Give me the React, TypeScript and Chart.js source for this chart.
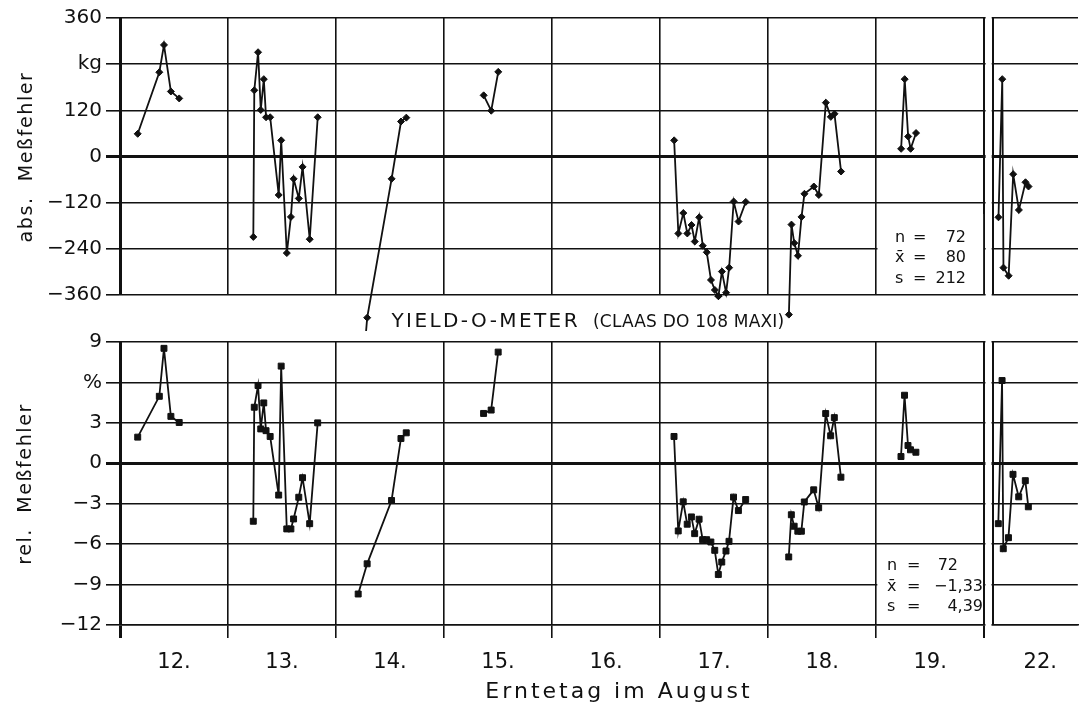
import React, { useEffect, useRef } from "react";
import { Chart, registerables } from "chart.js";

Chart.register(...registerables);

// ---------- data ----------
const DAY_LABELS = ["12.", "13.", "14.", "15.", "16.", "17.", "18.", "19.", "22."];
// section boundaries on the day axis (one unit = one harvest day; small gap before the 22nd)
const DAY_BOUNDS = [0, 1, 2, 3, 4, 5, 6, 7, 8, 8.08];
const DAY_CENTERS = [0.5, 1.5, 2.5, 3.5, 4.5, 5.5, 6.5, 7.5, 8.52];
const X_MAX = 8.867;

const ABS_TICKS = [-360, -240, -120, 0, 120, 240, 360];
const REL_TICKS = [-12, -9, -6, -3, 0, 3, 6, 9];

// positions on the day axis (shared by both panels)
const X12 = [0.164, 0.364, 0.407, 0.471, 0.548];
const X13 = [1.234, 1.243, 1.278, 1.303, 1.331, 1.352, 1.39, 1.469, 1.492, 1.544, 1.582, 1.607, 1.655, 1.69, 1.756, 1.83];
const X14 = [2.205, 2.288, 2.514, 2.601, 2.65];
const X15 = [3.366, 3.436, 3.501];
const X17 = [5.129, 5.168, 5.214, 5.251, 5.29, 5.32, 5.361, 5.394, 5.431, 5.47, 5.506, 5.539, 5.571, 5.61, 5.638, 5.68, 5.725, 5.792];
const X18 = [6.191, 6.215, 6.241, 6.275, 6.308, 6.335, 6.422, 6.468, 6.533, 6.579, 6.613, 6.674];
const X19 = [7.23, 7.263, 7.295, 7.318, 7.368];
const X22 = [8.131, 8.166, 8.177, 8.225, 8.267, 8.32, 8.381, 8.409];

// absolute error, kg
const ABS12 = [59, 219, 290, 169, 151];
const ABS13 = [-209, 172, 271, 121, 201, 102, 102, -100, 42, -251, -157, -58, -109, -27, -215, 102];
const ABS14 = [-700, -419, -58, 91, 101];
const ABS15 = [159, 119, 220];
const ABS17 = [42, -200, -147, -200, -178, -221, -158, -232, -249, -321, -347, -363, -299, -354, -289, -117, -169, -118];
const ABS18 = [-411, -177, -225, -258, -157, -97, -78, -100, 140, 103, 111, -39];
const ABS19 = [20, 201, 52, 20, 61];
const ABS22 = [-158, 201, -289, -310, -46, -139, -67, -78];

// relative error, %
const REL12 = [1.94, 4.97, 8.53, 3.48, 3.03];
const REL13 = [-4.3, 4.16, 5.77, 2.55, 4.48, 2.42, 1.99, -2.36, 7.21, -4.87, -4.87, -4.13, -2.52, -1.07, -4.48, 3.0];
const REL14 = [-9.7, -7.46, -2.76, 1.84, 2.26];
const REL15 = [3.7, 3.95, 8.25];
const REL17 = [1.99, -5.02, -2.86, -4.52, -3.98, -5.22, -4.15, -5.67, -5.67, -5.84, -6.46, -8.25, -7.33, -6.51, -5.79, -2.51, -3.51, -2.69];
const REL18 = [-6.95, -3.82, -4.67, -5.04, -5.04, -2.87, -1.97, -3.3, 3.69, 2.04, 3.39, -1.03];
const REL19 = [0.5, 5.05, 1.32, 1.0, 0.82];
const REL22 = [-4.48, 6.14, -6.34, -5.52, -0.82, -2.49, -1.29, -3.23];

const SESSION_X = [X12, X13, X14, X15, X17, X18, X19, X22];
const SESSION_ABS = [ABS12, ABS13, ABS14, ABS15, ABS17, ABS18, ABS19, ABS22];
const SESSION_REL = [REL12, REL13, REL14, REL15, REL17, REL18, REL19, REL22];

const STATS_ABS = [["n", "72"], ["x\u0304", "80"], ["s", "212"]];
const STATS_REL = [["n", "72"], ["x\u0304", "\u22121,33"], ["s", "4,39"]];

const TITLE_MAIN = "YIELD-O-METER";
const TITLE_SUB = "(CLAAS DO 108 MAXI)";
const Y_TITLE_ABS = "abs.  Meßfehler";
const Y_TITLE_REL = "rel.  Meßfehler";
const X_TITLE = "Erntetag im August";

// ---------- styling ----------
const W = 1083;
const H = 705;
const FONT = "'DejaVu Sans', sans-serif";
const INK = "#111111";
const OVERFLOW = 36; // px the upper panel's lines may run below its frame

Chart.defaults.font.family = FONT;

const fmtNum = (v: number) => (v < 0 ? "\u2212" + Math.abs(v) : String(v));

function drawText(
  ctx: CanvasRenderingContext2D,
  s: string,
  x: number,
  y: number,
  size: number,
  align: CanvasTextAlign,
  spacing = 0,
  rotate = 0
) {
  ctx.save();
  ctx.font = `${size}px ${FONT}`;
  ctx.fillStyle = INK;
  ctx.textAlign = align;
  ctx.textBaseline = "alphabetic";
  (ctx as any).letterSpacing = spacing + "px";
  ctx.translate(x, y);
  ctx.rotate(rotate);
  ctx.fillText(s, 0, 0);
  ctx.restore();
}

const gapMask = {
  id: "gapMask",
  beforeDatasetsDraw(chart: any) {
    const { ctx, chartArea } = chart;
    const xs = chart.scales.x;
    const a = xs.getPixelForValue(DAY_BOUNDS[8]) + 1.3;
    const b = xs.getPixelForValue(DAY_BOUNDS[9]) - 1.3;
    ctx.save();
    ctx.fillStyle = "#ffffff";
    ctx.fillRect(a, chartArea.top - 2, b - a, chartArea.bottom - chartArea.top + 4);
    ctx.restore();
  },
};

function statsBox(topOffset: number) {
  return {
    id: "statsBox",
    beforeDatasetsDraw(chart: any) {
      const { ctx, chartArea } = chart;
      const xs = chart.scales.x;
      const a = xs.getPixelForValue(DAY_BOUNDS[7]) + 1.2;
      const b = xs.getPixelForValue(DAY_BOUNDS[8]) - 1.2;
      ctx.save();
      ctx.fillStyle = "#ffffff";
      ctx.fillRect(a, chartArea.bottom - topOffset, b - a, topOffset - 1);
      ctx.restore();
    },
  };
}

// draw the markers that sit just below the upper frame (Chart.js skips points outside the area)
const overflowPoints = {
  id: "overflowPoints",
  afterDatasetsDraw(chart: any) {
    const { ctx, chartArea } = chart;
    const area = {
      left: chartArea.left,
      right: chartArea.right,
      top: chartArea.top,
      bottom: chartArea.bottom + OVERFLOW,
    };
    chart.data.datasets.forEach((_ds: any, i: number) => {
      const meta = chart.getDatasetMeta(i);
      meta.data.forEach((pt: any) => {
        if (pt.y > chartArea.bottom && pt.y <= area.bottom - 4) pt.draw(ctx, area);
      });
    });
  },
};

const topText = {
  id: "topText",
  afterDraw(chart: any) {
    const { ctx } = chart;
    drawText(ctx, Y_TITLE_ABS, 31.5, 157, 19, "center", 1.6, -Math.PI / 2);
    const base = [241.5, 262, 283];
    STATS_ABS.forEach((row, i) => {
      drawText(ctx, row[0], 895, base[i], 16, "left");
      drawText(ctx, "=", 913, base[i], 16, "left");
      drawText(ctx, row[1], 966, base[i], 16, "right");
    });
    drawText(ctx, TITLE_MAIN, 391.5, 326.5, 20, "left", 2.4);
    drawText(ctx, TITLE_SUB, 593, 326.5, 17, "left", 0.2);
  },
};

const bottomText = {
  id: "bottomText",
  afterDraw(chart: any) {
    const { ctx } = chart;
    drawText(ctx, Y_TITLE_REL, 30.5, 484, 19, "center", 1.6, -Math.PI / 2);
    const base = [570, 590.5, 611];
    const right = [958, 983, 983];
    STATS_REL.forEach((row, i) => {
      drawText(ctx, row[0], 887, base[i], 16, "left");
      drawText(ctx, "=", 907, base[i], 16, "left");
      drawText(ctx, row[1], right[i], base[i], 16, "right");
    });
    drawText(ctx, X_TITLE, 619, 698, 22, "center", 3);
  },
};

function gridWidth(v: number) {
  if (v === 0) return 3;
  if (v === DAY_BOUNDS[8] || v === DAY_BOUNDS[9]) return 2;
  return 1.6;
}

function makeDatasets(values: number[][], style: string, radius: number, clip: any) {
  return SESSION_X.map((xs, k) => ({
    data: xs.map((x, i) => ({ x, y: values[k][i] })),
    borderColor: INK,
    borderWidth: 1.8,
    pointStyle: style,
    pointRadius: radius,
    pointBackgroundColor: INK,
    pointBorderColor: INK,
    pointBorderWidth: 1,
    tension: 0,
    fill: false,
    clip,
  }));
}

function yScale(min: number, max: number, ticks: number[], unitAt: number, unit: string) {
  return {
    type: "linear",
    min,
    max,
    afterBuildTicks: (s: any) => {
      s.ticks = ticks.map((v) => ({ value: v }));
    },
    afterFit: (s: any) => {
      s.width = 120;
    },
    ticks: {
      color: INK,
      padding: 4,
      font: { family: FONT, size: 20 },
      callback: (v: number) => (v === unitAt ? unit : fmtNum(v)),
    },
    grid: {
      color: INK,
      lineWidth: (c: any) => (c.tick && c.tick.value === 0 ? 3 : 1.6),
      tickLength: 14,
    },
    border: { display: true, color: INK, width: 3 },
  };
}

function topConfig(): any {
  return {
    type: "line",
    data: {
      datasets: makeDatasets(SESSION_ABS, "rectRot", 3.5, { left: 10, top: 10, right: 10, bottom: OVERFLOW }),
    },
    options: {
      responsive: false,
      animation: false,
      events: [],
      layout: { padding: { left: 0, right: 0, top: 18, bottom: 410 } },
      plugins: { legend: { display: false }, tooltip: { enabled: false }, title: { display: false } },
      scales: {
        x: {
          type: "linear",
          min: 0,
          max: X_MAX,
          afterBuildTicks: (s: any) => {
            s.ticks = DAY_BOUNDS.map((v) => ({ value: v }));
          },
          afterFit: (s: any) => {
            s.height = 0;
          },
          ticks: { display: false },
          grid: {
            color: INK,
            drawTicks: false,
            lineWidth: (c: any) => gridWidth(c.tick ? c.tick.value : 1),
          },
          border: { display: false },
        },
        y: yScale(-360, 360, ABS_TICKS, 240, "kg"),
      },
    },
    plugins: [gapMask, statsBox(81), overflowPoints, topText],
  };
}

function bottomConfig(): any {
  const allTicks = [...DAY_BOUNDS, ...DAY_CENTERS].sort((a, b) => a - b);
  const isCenter = (v: number) => DAY_CENTERS.indexOf(v) >= 0;
  return {
    type: "line",
    data: {
      datasets: makeDatasets(SESSION_REL, "rect", 4.2, 0),
    },
    options: {
      responsive: false,
      animation: false,
      events: [],
      layout: { padding: { left: 0, right: 0, top: 342, bottom: 0 } },
      plugins: { legend: { display: false }, tooltip: { enabled: false }, title: { display: false } },
      scales: {
        x: {
          type: "linear",
          min: 0,
          max: X_MAX,
          afterBuildTicks: (s: any) => {
            s.ticks = allTicks.map((v) => ({ value: v }));
          },
          afterFit: (s: any) => {
            s.height = 80;
          },
          ticks: {
            autoSkip: false,
            maxRotation: 0,
            minRotation: 0,
            padding: 12,
            color: INK,
            font: { family: FONT, size: 21 },
            callback: (v: number) => {
              const i = DAY_CENTERS.indexOf(v);
              return i >= 0 ? DAY_LABELS[i] : "";
            },
          },
          grid: {
            color: (c: any) => (c.tick && isCenter(c.tick.value) ? "rgba(0,0,0,0)" : INK),
            lineWidth: (c: any) => gridWidth(c.tick ? c.tick.value : 1),
            tickLength: 13,
            tickColor: (c: any) =>
              c.tick && (isCenter(c.tick.value) || c.tick.value === DAY_BOUNDS[9]) ? "rgba(0,0,0,0)" : INK,
          },
          border: { display: true, color: INK, width: 1.6 },
        },
        y: yScale(-12, 9, REL_TICKS, 6, "%"),
      },
    },
    plugins: [gapMask, statsBox(75), bottomText],
  };
}

export default function App() {
  const topRef = useRef<HTMLCanvasElement>(null);
  const botRef = useRef<HTMLCanvasElement>(null);
  useEffect(() => {
    const c1 = new Chart(topRef.current as HTMLCanvasElement, topConfig());
    const c2 = new Chart(botRef.current as HTMLCanvasElement, bottomConfig());
    return () => {
      c1.destroy();
      c2.destroy();
    };
  }, []);
  return (
    <div
      style={{
        position: "absolute",
        left: 0,
        top: 0,
        width: W,
        height: H,
        background: "#ffffff",
        overflow: "hidden",
      }}
    >
      <canvas ref={topRef} width={W} height={H} style={{ position: "absolute", left: 0, top: 0 }} />
      <canvas ref={botRef} width={W} height={H} style={{ position: "absolute", left: 0, top: 0 }} />
    </div>
  );
}
